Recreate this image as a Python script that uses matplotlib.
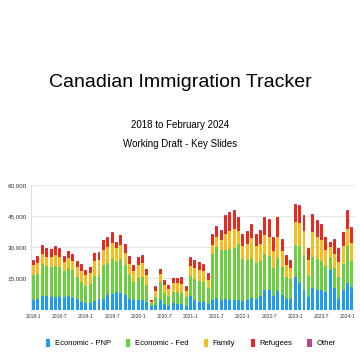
import matplotlib
matplotlib.use("Agg")
import matplotlib.pyplot as plt
import numpy as np

plt.rcParams["font.family"] = ["Liberation Sans", "DejaVu Sans"]

# monthly admissions, Jan 2018 .. Feb 2024
months = [f"{y}-{m}" for y in range(2018, 2025) for m in range(1, 13)][:74]

pnp = [4500, 5000, 6600, 6500, 6100, 6100, 6100, 6100, 6400, 5600,
       5000, 3700, 3200, 3200, 4000, 5000, 5300, 6900, 7700, 8500,
       8100, 6900, 5300, 4500, 4500, 4800, 3800, 1500, 2000, 4500,
       2700, 1800, 3000, 2800, 2500, 1800, 6500, 4500, 3600, 3700,
       2800, 4500, 5500, 4500, 5000, 4500, 4500, 4500, 4000, 4500,
       5500, 5000, 6500, 9500, 9500, 6500, 9000, 7000, 5000, 5000,
       15500, 13000, 9500, 6200, 10500, 9400, 9400, 8300, 19000, 10500,
       5000, 9500, 13000, 11000]
fed = [12100, 12100, 15200, 14600, 14500, 14900, 14500, 12500, 13800, 13500,
       10500, 9800, 8400, 9000, 12000, 11500, 16000, 15500, 16500, 14500,
       16500, 14800, 11500, 9000, 10500, 11000, 8000, 1600, 4200, 8800,
       5500, 4800, 5400, 5600, 5500, 4200, 9500, 10000, 10300, 9500,
       7800, 22500, 24500, 24000, 23500, 24500, 25000, 27000, 20500, 19500,
       19500, 17500, 17000, 17500, 16500, 13500, 16000, 13500, 10500, 9800,
       15500, 17500, 16800, 9800, 14700, 15000, 14000, 12500, 6500, 9500,
       10500, 12500, 17500, 12500]
family = [4900, 5500, 4800, 4400, 4800, 5300, 4900, 4200, 4500, 4500,
          4800, 5200, 5000, 5500, 7500, 7300, 7600, 7700, 8000, 6700,
          6500, 5500, 5200, 5300, 6300, 6500, 5000, 700, 2700, 4000,
          3600, 3200, 4300, 4200, 4400, 3000, 5200, 5500, 5400, 5300,
          3800, 4000, 4800, 5000, 8000, 9000, 9500, 6500, 6000, 7500,
          9500, 8000, 8300, 9000, 9200, 8000, 10000, 7500, 5800, 5000,
          11300, 11300, 11500, 8000, 12000, 10500, 10000, 8000, 4500, 7000,
          7500, 8500, 8500, 8500]
refugees = [2100, 2900, 4200, 3800, 3600, 3800, 3900, 2500, 3300, 2800,
            2800, 2800, 2200, 2700, 3600, 3500, 4400, 4400, 4700, 2800,
            4600, 4200, 3300, 2400, 3500, 3600, 2600, 600, 2100, 2100,
            2000, 1600, 2400, 2500, 2900, 1900, 3600, 3600, 3400, 3100,
            2700, 4900, 5000, 4300, 8600, 8500, 8500, 6000, 5500, 5800,
            6200, 5700, 6000, 8100, 8100, 6500, 9400, 5600, 4600, 3800,
            8300, 8000, 7100, 5300, 8500, 7600, 7300, 6000, 2000, 6600,
            6300, 6700, 8300, 7500]
other = [300, 300, 300, 300, 300, 300, 300, 300, 300, 300,
         300, 300, 300, 300, 300, 300, 300, 300, 300, 300,
         300, 300, 300, 300, 300, 300, 300, 100, 200, 300,
         300, 300, 300, 300, 300, 300, 300, 300, 300, 300,
         300, 400, 400, 400, 400, 400, 400, 400, 400, 400,
         400, 400, 400, 400, 400, 400, 400, 400, 400, 400,
         500, 500, 500, 400, 500, 500, 500, 400, 400, 400,
         400, 400, 500, 400]

series = [
    ("Economic - PNP", pnp, "#1f9bef"),
    ("Economic - Fed", fed, "#6bcf3f"),
    ("Family", family, "#f5bd1f"),
    ("Refugees", refugees, "#e8291c"),
    ("Other", other, "#b5458f"),
]

fig = plt.figure(figsize=(3.6, 3.6), dpi=100)
fig.text(0.5, 0.772, "Canadian Immigration Tracker", ha="center", va="center",
         fontsize=14)
fig.text(0.5, 0.653, "2018 to February 2024", ha="center", va="center", fontsize=7)
fig.text(0.5, 0.600, "Working Draft - Key Slides", ha="center", va="center", fontsize=7)

ax = fig.add_axes([0.086, 0.140, 0.899, 0.346])
x = np.arange(len(months))
bottom = np.zeros(len(months))
handles = []
for name, vals, color in series:
    vals = np.array(vals, dtype=float)
    b = ax.bar(x, vals, bottom=bottom, width=0.68, color=color, label=name,
               linewidth=0, zorder=3)
    handles.append(b)
    bottom += vals

ax.set_xlim(-0.6, len(months) - 0.4)
ax.set_ylim(0, 60000)
ax.set_yticks([15000, 30000, 45000, 60000])
ax.set_yticklabels(["15,000", "30,000", "45,000", "60,000"], fontsize=4.5)
ax.set_xticks(x[::6])
ax.set_xticklabels(months[::6], fontsize=3.6)
ax.tick_params(length=0, pad=3, colors="#333333")
ax.grid(axis="y", color="#e6e6e6", linewidth=0.8, zorder=0)
for side in ("top", "right", "bottom"):
    ax.spines[side].set_visible(False)
ax.spines["left"].set_color("#dddddd")
ax.spines["left"].set_linewidth(0.8)

fig.legend(handles=handles, loc="center", bbox_to_anchor=(0.53, 0.047), ncol=5,
           frameon=False, fontsize=5.5, handlelength=0.55, handleheight=1.3,
           handletextpad=0.6, columnspacing=2.0)

fig.savefig("out.png", dpi=100)
